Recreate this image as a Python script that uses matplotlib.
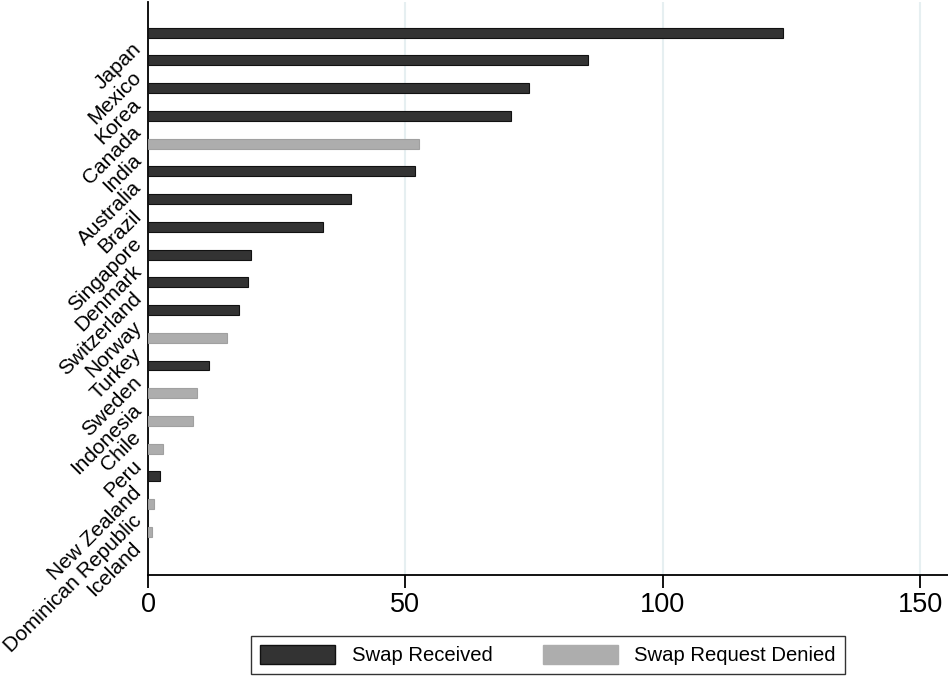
import matplotlib
matplotlib.use("Agg")
import matplotlib.pyplot as plt
import numpy as np
from matplotlib.patches import Patch

plt.rcParams['font.family'] = ['Liberation Sans', 'DejaVu Sans']

countries = ["Japan", "Mexico", "Korea", "Canada", "India", "Australia", "Brazil",
             "Singapore", "Denmark", "Switzerland", "Norway", "Turkey", "Sweden",
             "Indonesia", "Chile", "Peru", "New Zealand", "Dominican Republic", "Iceland"]
values = [123.4, 85.5, 74.0, 70.5, 52.7, 51.9, 39.4, 34.0, 20.0, 19.4, 17.7, 15.3,
          11.9, 9.5, 8.7, 2.9, 2.3, 1.2, 0.8]
status = ["Received", "Received", "Received", "Received", "Denied", "Received", "Received",
          "Received", "Received", "Received", "Received", "Denied", "Received",
          "Denied", "Denied", "Denied", "Received", "Denied", "Denied"]
legend_labels = ["Swap Received", "Swap Request Denied"]
xticks = [0, 50, 100, 150]

dark = "#333333"
light = "#adadad"

fig = plt.figure(figsize=(9.48, 6.78), dpi=100)
ax = fig.add_axes([148/948, 103/678, 800/948, 573/678])

y = np.arange(len(countries))
colors = [dark if s == "Received" else light for s in status]
edges = ["#111111" if s == "Received" else "#a0a0a0" for s in status]
ax.barh(y, values, height=0.36, color=colors, edgecolor=edges, linewidth=0.8, zorder=3)

ax.set_xlim(0, 155.4)
ax.set_ylim(19.55, -1.1)
ax.set_xticks(xticks)
ax.set_xticklabels([str(t) for t in xticks], fontsize=19.5)
ax.tick_params(axis='x', length=9, width=1.3, pad=3)
ax.grid(axis='x', color="#e6eff1", linewidth=1.5, zorder=0)
ax.set_axisbelow(True)

ax.set_yticks(y + 0.5)
ax.set_yticklabels(countries, fontsize=15, rotation=45, ha='right', va='center',
                   rotation_mode='anchor')
ax.tick_params(axis='y', length=0, pad=7)

for s in ['top', 'right']:
    ax.spines[s].set_visible(False)
for s in ['left', 'bottom']:
    ax.spines[s].set_linewidth(1.3)

handles = [Patch(facecolor=dark, edgecolor="#111111"), Patch(facecolor=light, edgecolor=light)]
leg = fig.legend(handles, legend_labels, loc='center', bbox_to_anchor=(548/948, 1 - 655/678),
                 ncol=2, fontsize=14.6, frameon=True, fancybox=False, edgecolor='black',
                 handlelength=3.7, handleheight=1.1, columnspacing=2.5, handletextpad=0.8,
                 borderpad=0.45, borderaxespad=0)
leg.get_frame().set_linewidth(1.0)

fig.savefig("out.png", dpi=100)
